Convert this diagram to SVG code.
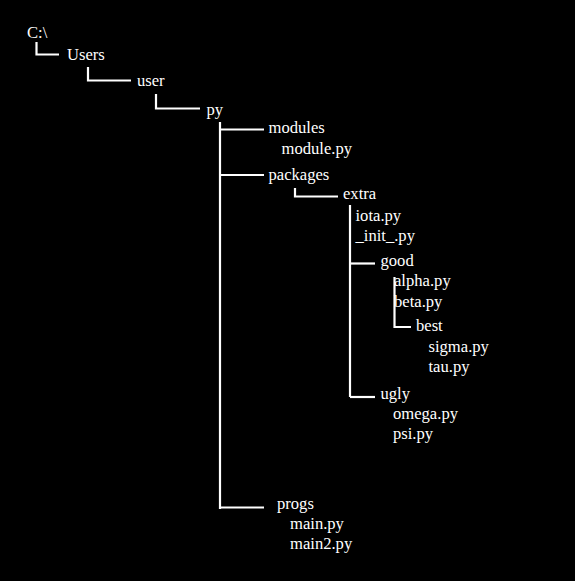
<svg xmlns="http://www.w3.org/2000/svg" width="575" height="581" viewBox="0 0 575 581">
<style>
text{font-family:"Liberation Serif","Times New Roman",serif;font-size:16.6px;fill:#fff}
.c{fill:none;stroke:#fff;stroke-width:2.2}
</style>
<rect width="575" height="581" fill="#000"/>
<g id="connectors">
<path class="c" d="M36.5,42 V54.5 H59"/>
<path class="c" d="M88,67 V80.5 H131"/>
<path class="c" d="M156,94 V108.5 H200"/>
<path class="c" d="M220,122 V509"/>
<path class="c" d="M220,129.5 H264"/>
<path class="c" d="M220,175 H264"/>
<path class="c" d="M220,507.5 H264"/>
<path class="c" d="M295,188 V196.5 H338"/>
<path class="c" d="M350,205 V397"/>
<path class="c" d="M350,263.5 H375"/>
<path class="c" d="M350,397 H375"/>
<path class="c" d="M394.5,277 V327 H411"/>
</g>
<g id="n-c"><text x="27" y="38">C:\</text></g>
<g id="n-users"><text x="67" y="59.5">Users</text></g>
<g id="n-user"><text x="137" y="86">user</text></g>
<g id="n-py"><text x="206.5" y="114.5">py</text></g>
<g id="n-modules"><text x="268.5" y="133">modules</text></g>
<g id="n-module-py"><text x="281.5" y="154">module.py</text></g>
<g id="n-packages"><text x="268.5" y="179.5">packages</text></g>
<g id="n-extra"><text x="343" y="199">extra</text></g>
<g id="n-iota"><text x="355.5" y="220.5">iota.py</text></g>
<g id="n-init"><text x="355.5" y="240.5">_init_.py</text></g>
<g id="n-good"><text x="380.5" y="266">good</text></g>
<g id="n-alpha"><text x="394" y="285.5">alpha.py</text></g>
<g id="n-beta"><text x="394" y="306.5">beta.py</text></g>
<g id="n-best"><text x="416" y="330.5">best</text></g>
<g id="n-sigma"><text x="428.5" y="351.5">sigma.py</text></g>
<g id="n-tau"><text x="428.5" y="371.5">tau.py</text></g>
<g id="n-ugly"><text x="380.5" y="399">ugly</text></g>
<g id="n-omega"><text x="393" y="419">omega.py</text></g>
<g id="n-psi"><text x="393" y="439">psi.py</text></g>
<g id="n-progs"><text x="277" y="509">progs</text></g>
<g id="n-main"><text x="290" y="529">main.py</text></g>
<g id="n-main2"><text x="290" y="549">main2.py</text></g>
</svg>
